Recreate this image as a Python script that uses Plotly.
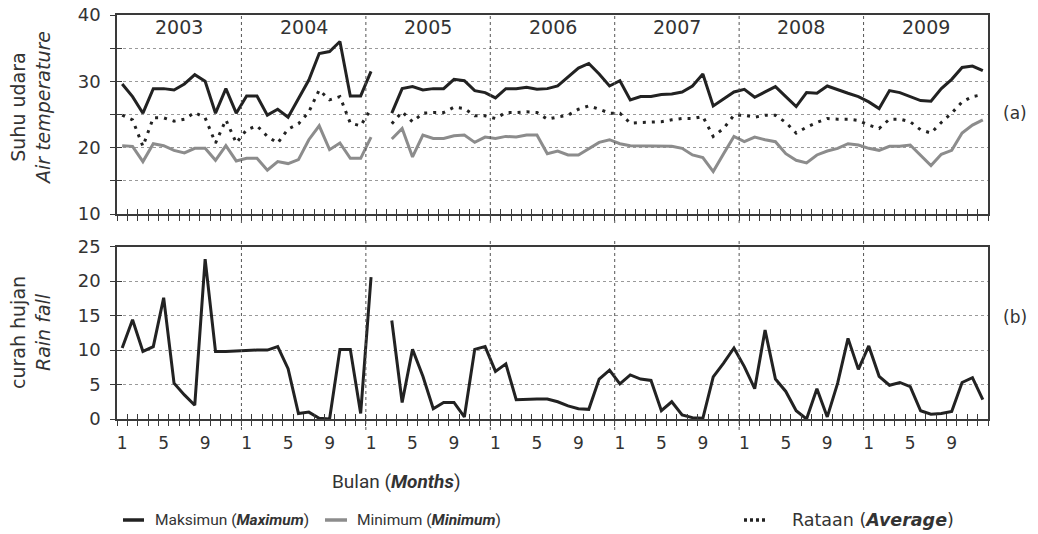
import plotly.graph_objects as go

years = ["2003", "2004", "2005", "2006", "2007", "2008", "2009"]
month_labels = ["1", "5", "9"]
label_months = [1, 5, 9]

tmax = [29.6, 27.7, 25.2, 28.9, 28.9, 28.7, 29.6, 31.0, 30.0, 25.2, 28.9, 25.2,
        27.8, 27.8, 24.9, 25.8, 24.6, 27.4, 30.2, 34.2, 34.5, 36.0, 27.8, 27.8,
        31.5, None, 25.2, 28.9, 29.2, 28.7, 28.9, 28.9, 30.3, 30.1, 28.6, 28.3,
        27.5, 28.9, 28.9, 29.1, 28.8, 28.9, 29.3, 30.6, 32.0, 32.7, 31.1, 29.3,
        30.1, 27.2, 27.7, 27.7, 28.0, 28.1, 28.4, 29.3, 31.1, 26.3, 27.3, 28.4,
        28.8, 27.6, 28.4, 29.2, 27.7, 26.2, 28.3, 28.2, 29.3, 28.7, 28.2, 27.7,
        26.9, 25.9, 28.6, 28.3, 27.7, 27.1, 27.0, 28.9, 30.3, 32.1, 32.3, 31.6]

tmin = [20.3, 20.2, 17.9, 20.6, 20.3, 19.6, 19.2, 19.9, 19.9, 18.1, 20.3, 18.0,
        18.4, 18.4, 16.6, 17.9, 17.6, 18.2, 21.2, 23.3, 19.7, 20.7, 18.4, 18.4,
        21.6, None, 21.3, 22.9, 18.6, 21.9, 21.4, 21.4, 21.8, 21.9, 20.8, 21.6,
        21.4, 21.7, 21.6, 21.9, 21.9, 19.1, 19.5, 18.9, 18.9, 19.9, 20.8, 21.2,
        20.6, 20.3, 20.3, 20.3, 20.3, 20.2, 19.9, 18.9, 18.5, 16.4, 19.1, 21.7,
        20.9, 21.6, 21.2, 20.9, 19.1, 18.1, 17.7, 18.9, 19.5, 19.9, 20.6, 20.4,
        19.9, 19.6, 20.2, 20.2, 20.4, 18.9, 17.3, 19.0, 19.6, 22.2, 23.4, 24.2]

tavg = [24.9, 24.2, 20.2, 24.5, 24.5, 24.0, 24.3, 25.3, 24.5, 20.7, 24.2, 20.7,
        22.7, 23.3, 21.7, 20.7, 22.8, 23.6, 25.4, 28.7, 27.2, 27.7, 23.7, 23.3,
        25.9, None, 23.6, 25.4, 23.9, 25.2, 25.3, 25.3, 26.1, 25.9, 24.8, 24.8,
        24.4, 25.3, 25.3, 25.4, 25.3, 24.3, 24.6, 24.9, 25.8, 26.3, 25.8, 25.2,
        25.2, 23.7, 23.8, 23.8, 23.9, 24.2, 24.4, 24.4, 24.7, 21.7, 22.9, 24.9,
        24.9, 24.6, 24.9, 24.9, 23.8, 22.2, 23.1, 23.8, 24.4, 24.3, 24.3, 24.1,
        23.4, 22.9, 24.3, 24.3, 23.9, 22.7, 22.2, 23.8, 25.2, 26.9, 27.7, 28.0]

rain = [10.3, 14.4, 9.8, 10.5, 17.6, 5.2, 3.5, 2.0, 23.2, 9.8, 9.8, 9.9,
        10.0, 10.0, 10.0, 10.5, 7.3, 0.8, 1.0, 0.1, 0.0, 10.1, 10.1, 0.8,
        20.6, None, 14.3, 2.4, 10.1, 6.2, 1.5, 2.4, 2.4, 0.3, 10.1, 10.5,
        6.9, 8.0, 2.8, 2.9, 2.9, 2.9, 2.5, 1.9, 1.5, 1.4, 5.8, 7.1,
        5.1, 6.4, 5.8, 5.6, 1.2, 2.5, 0.6, 0.2, 0.1, 6.1, 8.1, 10.3,
        7.6, 4.4, 12.9, 5.8, 4.0, 1.2, 0.0, 4.4, 0.3, 5.2, 11.7, 7.2,
        10.6, 6.2, 4.9, 5.3, 4.7, 1.2, 0.7, 0.8, 1.1, 5.3, 6.0, 2.8]

legend_names = ["Maksimun (<b><i>Maximum</i></b>)",
                "Minimum (<b><i>Minimum</i></b>)",
                "Rataan (<b><i>Average</i></b>)"]

n_months = len(tmax)
months = list(range(1, n_months + 1))
boundaries = [0.5 + i for i in range(n_months + 1)]
tick_pos = [12 * k + m for k in range(len(years)) for m in label_months]
tick_txt = [t for k in range(len(years)) for t in month_labels]
year_edges = [12 * k + 0.5 for k in range(1, len(years))]
year_mid = [12 * k + 6.5 for k in range(len(years))]

NUM_FONT = "DejaVu Sans"
TXT_FONT = "Roboto"
AX = "#3a3a3a"
GRID = "#9a9a9a"
C_MAX = "#222222"
C_MIN = "#8c8c8c"
C_AVG = "#222222"
AVG_DASH = "3px,6px"

fig = go.Figure()
fig.add_trace(go.Scatter(x=months, y=tmax, mode="lines", name=legend_names[0],
                         line=dict(color=C_MAX, width=3), showlegend=False))
fig.add_trace(go.Scatter(x=months, y=tmin, mode="lines", name=legend_names[1],
                         line=dict(color=C_MIN, width=3), showlegend=False))
fig.add_trace(go.Scatter(x=months, y=tavg, mode="lines", name=legend_names[2],
                         line=dict(color=C_AVG, width=3, dash=AVG_DASH), showlegend=False))
fig.add_trace(go.Scatter(x=months, y=rain, mode="lines", showlegend=False,
                         line=dict(color=C_MAX, width=3), xaxis="x2", yaxis="y2"))
# empty traces that only host the inner-tick overlay axes
fig.add_trace(go.Scatter(x=[None], y=[None], xaxis="x3", yaxis="y3", showlegend=False, hoverinfo="skip"))
fig.add_trace(go.Scatter(x=[None], y=[None], xaxis="x4", yaxis="y4", showlegend=False, hoverinfo="skip"))

top_dom = [0.5074, 1.0]
bot_dom = [0.0, 0.4265]
xr = [0.5, n_months + 0.5]

common_x = dict(range=xr, showgrid=False, zeroline=False, fixedrange=True, automargin=False)

fig.update_layout(
    template="none",
    width=1038, height=534,
    margin=dict(l=117, r=50, t=15, b=115, pad=0),
    paper_bgcolor="white", plot_bgcolor="white",
    showlegend=False,
    xaxis=dict(**common_x, domain=[0, 1], anchor="y", tickmode="array", tickvals=boundaries,
               ticks="outside", ticklen=5, tickwidth=1.3, tickcolor=AX, showticklabels=False,
               showline=True, linecolor=AX, linewidth=1.5, mirror=True),
    yaxis=dict(domain=top_dom, range=[10, 40], anchor="x", tickmode="array", automargin=False,
               tickvals=[10, 15, 20, 25, 30, 35, 40], ticktext=["10", "", "20", "", "30", "", "40"],
               ticks="outside", ticklen=5, tickwidth=1.3, tickcolor=AX,
               showline=True, linecolor=AX, linewidth=1.5, mirror=True,
               showgrid=True, gridcolor=GRID, griddash="dot", gridwidth=1, zeroline=False,
               tickfont=dict(family=NUM_FONT, size=18, color="#333333"), ticklabelstandoff=6),
    xaxis3=dict(**common_x, overlaying="x", anchor="y3", tickmode="array", tickvals=boundaries,
                ticks="inside", ticklen=5, tickwidth=1.3, tickcolor=AX, showticklabels=False,
                showline=False),
    yaxis3=dict(overlaying="y", anchor="x3", range=[10, 40], tickmode="array", automargin=False,
                tickvals=[10, 15, 20, 25, 30, 35, 40], ticks="inside", ticklen=5, tickwidth=1.3,
                tickcolor=AX, showticklabels=False, showline=False, showgrid=False, zeroline=False),
    xaxis2=dict(**common_x, domain=[0, 1], anchor="y2", tickmode="array", tickvals=tick_pos,
                ticktext=tick_txt, ticks="", showline=True, linecolor=AX, linewidth=1.5, mirror=True,
                minor=dict(tickmode="linear", tick0=0.5, dtick=1, ticks="outside", ticklen=5,
                           tickwidth=1.3, tickcolor=AX, showgrid=False),
                tickfont=dict(family=NUM_FONT, size=17, color="#333333"), ticklabelstandoff=8),
    yaxis2=dict(domain=bot_dom, range=[0, 25], anchor="x2", tickmode="array", automargin=False,
                tickvals=[0, 5, 10, 15, 20, 25], ticks="outside", ticklen=5, tickwidth=1.3,
                tickcolor=AX, showline=True, linecolor=AX, linewidth=1.5, mirror=True,
                showgrid=True, gridcolor=GRID, griddash="dot", gridwidth=1, zeroline=False,
                tickfont=dict(family=NUM_FONT, size=18, color="#333333"), ticklabelstandoff=6),
    xaxis4=dict(**common_x, overlaying="x2", anchor="y4", tickmode="array", tickvals=boundaries,
                ticks="inside", ticklen=5, tickwidth=1.3, tickcolor=AX, showticklabels=False,
                showline=False),
    yaxis4=dict(overlaying="y2", anchor="x4", range=[0, 25], tickmode="array", automargin=False,
                tickvals=[0, 5, 10, 15, 20, 25], ticks="inside", ticklen=5, tickwidth=1.3,
                tickcolor=AX, showticklabels=False, showline=False, showgrid=False, zeroline=False),
    hovermode=False,
)

PW = 871.0   # plot width in px (for paper-coordinate placement of decorations)
PH = 404.0   # plot height in px


def px_x(p):
    return (p - 117) / PW


def px_y(p):
    return (419 - p) / PH


shapes = []
for xe in year_edges:
    shapes.append(dict(type="line", xref="x", yref="paper", x0=xe, x1=xe, y0=px_y(223), y1=1.0,
                       line=dict(color="#555555", width=1, dash="dot")))
    shapes.append(dict(type="line", xref="x2", yref="paper", x0=xe, x1=xe, y0=px_y(430), y1=px_y(239),
                       line=dict(color="#555555", width=1, dash="dot")))

# legend samples
LEG_Y = px_y(520)
leg_samples = [(123, 144, C_MAX, "solid"), (325, 347, C_MIN, "solid"), (744, 766, C_AVG, "3px,3px")]
for (a, b, col, d) in leg_samples:
    shapes.append(dict(type="line", xref="paper", yref="paper", x0=px_x(a), x1=px_x(b),
                       y0=LEG_Y, y1=LEG_Y, line=dict(color=col, width=3.5, dash=d)))
fig.update_layout(shapes=shapes)

ann = []
for xm, yr in zip(year_mid, years):
    ann.append(dict(x=xm, xref="x", y=px_y(27), yref="paper", text=yr, showarrow=False,
                    xanchor="center", yanchor="middle",
                    font=dict(family=NUM_FONT, size=19, color="#333333")))
ann.append(dict(x=px_x(30), xref="paper", y=px_y(108), yref="paper", text="Suhu udara<br><i>Air temperature</i>",
                textangle=-90, showarrow=False, xanchor="center", yanchor="middle",
                font=dict(family=NUM_FONT, size=19, color="#333333")))
ann.append(dict(x=px_x(30), xref="paper", y=px_y(333), yref="paper", text="curah hujan<br><i>Rain fall</i>",
                textangle=-90, showarrow=False, xanchor="center", yanchor="middle",
                font=dict(family=NUM_FONT, size=19, color="#333333")))
ann.append(dict(x=px_x(1015), xref="paper", y=px_y(113), yref="paper", text="(a)", showarrow=False,
                xanchor="center", yanchor="middle", font=dict(family=NUM_FONT, size=17, color="#333333")))
ann.append(dict(x=px_x(1015), xref="paper", y=px_y(317), yref="paper", text="(b)", showarrow=False,
                xanchor="center", yanchor="middle", font=dict(family=NUM_FONT, size=17, color="#333333")))
ann.append(dict(x=px_x(396), xref="paper", y=px_y(482), yref="paper", text="Bulan (<b><i>Months</i></b>)",
                showarrow=False, xanchor="center", yanchor="middle",
                font=dict(family=TXT_FONT, size=19, color="#333333")))
leg_text_x = [153, 355, 790]
leg_fonts = [(TXT_FONT, 15.5), (TXT_FONT, 15.5), (NUM_FONT, 17.5)]
for name, tx, (ff, fs) in zip(legend_names, leg_text_x, leg_fonts):
    ann.append(dict(x=px_x(tx), xref="paper", y=LEG_Y, yref="paper", text=name, showarrow=False,
                    xanchor="left", yanchor="middle", font=dict(family=ff, size=fs, color="#333333")))
fig.update_layout(annotations=ann)

fig.write_html("out.html")
